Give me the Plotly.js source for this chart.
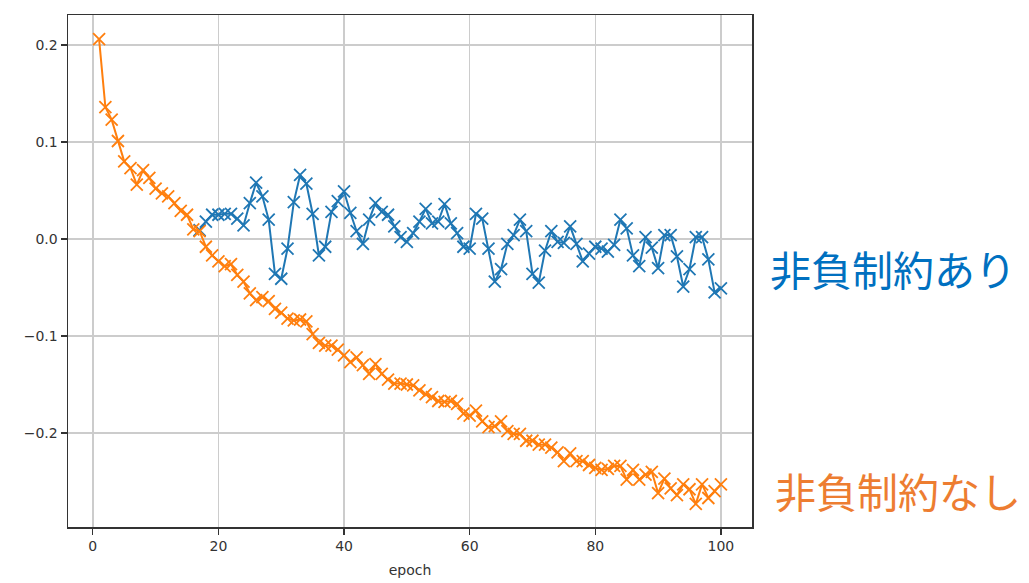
<!DOCTYPE html>
<html>
<head>
<meta charset="utf-8">
<script src="https://cdn.plot.ly/plotly-3.0.1.min.js"></script>
<style>html,body{margin:0;padding:0;background:#fff;}#chart{width:1029px;height:583px;}</style>
</head>
<body>
<div id="chart"></div>
<script>
// epochs for each series
const epochsOrange = Array.from({length: 100}, (_, i) => i + 1);
const epochsBlue = Array.from({length: 84}, (_, i) => i + 17);

// 非負制約なし (orange), epochs 1..100
const valuesOrange = [
  0.206, 0.136, 0.123, 0.101, 0.080, 0.073, 0.056, 0.071, 0.063, 0.052,
  0.047, 0.044, 0.037, 0.029, 0.025, 0.010, 0.008, -0.008, -0.017, -0.023,
  -0.028, -0.026, -0.037, -0.044, -0.056, -0.063, -0.060, -0.064, -0.072, -0.076,
  -0.082, -0.084, -0.083, -0.085, -0.098, -0.107, -0.110, -0.110, -0.114, -0.120,
  -0.127, -0.122, -0.130, -0.139, -0.129, -0.139, -0.145, -0.149, -0.149, -0.150,
  -0.151, -0.156, -0.160, -0.163, -0.167, -0.168, -0.167, -0.170, -0.180, -0.182,
  -0.177, -0.188, -0.194, -0.193, -0.188, -0.198, -0.201, -0.201, -0.208, -0.208,
  -0.212, -0.212, -0.215, -0.220, -0.229, -0.221, -0.229, -0.229, -0.233, -0.236,
  -0.238, -0.237, -0.234, -0.234, -0.248, -0.238, -0.248, -0.243, -0.240, -0.262,
  -0.247, -0.257, -0.264, -0.253, -0.258, -0.273, -0.253, -0.267, -0.260, -0.253
];

// 非負制約あり (blue), epochs 17..100 (hidden under orange before that)
const valuesBlue = [
  0.009, 0.018, 0.025, 0.025, 0.026, 0.026, 0.021, 0.014, 0.037, 0.058,
  0.044, 0.020, -0.036, -0.041, -0.010, 0.038, 0.066, 0.057, 0.026, -0.017,
  -0.008, 0.028, 0.039, 0.049, 0.027, 0.008, -0.005, 0.020, 0.037, 0.028,
  0.025, 0.013, 0.002, -0.003, 0.006, 0.018, 0.031, 0.016, 0.018, 0.036,
  0.016, 0.006, -0.008, -0.010, 0.026, 0.021, -0.010, -0.044, -0.031, -0.005,
  0.004, 0.020, 0.008, -0.036, -0.045, -0.012, 0.008, -0.003, -0.004, 0.013,
  -0.005, -0.023, -0.015, -0.008, -0.010, -0.013, -0.006, 0.020, 0.011, -0.017,
  -0.028, 0.002, -0.009, -0.030, 0.004, 0.004, -0.018, -0.049, -0.031, 0.002,
  0.002, -0.021, -0.055, -0.051
];

const xTicks = [0, 20, 40, 60, 80, 100];
const yTicks = [-0.2, -0.1, 0.0, 0.1, 0.2];
const labelBlue = "非負制約あり";
const labelOrange = "非負制約なし";

const blue = "#1f77b4";
const orange = "#ff7f0e";

const traces = [
  {
    x: epochsBlue, y: valuesBlue, type: "scatter", mode: "lines+markers",
    line: {color: blue, width: 2},
    marker: {symbol: "x-thin-open", size: 12, color: blue, line: {color: blue, width: 1.8}},
    showlegend: false, hoverinfo: "skip"
  },
  {
    x: epochsOrange, y: valuesOrange, type: "scatter", mode: "lines+markers",
    line: {color: orange, width: 2},
    marker: {symbol: "x-thin-open", size: 12, color: orange, line: {color: orange, width: 1.8}},
    showlegend: false, hoverinfo: "skip"
  }
];

const layout = {
  width: 1029, height: 583,
  margin: {l: 68, r: 277, t: 15, b: 56},
  paper_bgcolor: "#ffffff", plot_bgcolor: "#ffffff",
  font: {family: "DejaVu Sans, sans-serif", size: 14, color: "#333333"},
  xaxis: {
    range: [-3.95, 104.95], tickvals: xTicks, ticktext: xTicks.map(String),
    showgrid: true, gridcolor: "#cccccc", gridwidth: 1.5, zeroline: false,
    showline: true, mirror: true, linecolor: "#333333", linewidth: 1.5,
    ticks: "outside", ticklen: 6, tickcolor: "#333333", tickwidth: 1.2,
    tickfont: {size: 14, color: "#333333"},
    title: {text: "epoch", font: {size: 14, color: "#333333"}, standoff: 12}
  },
  yaxis: {
    range: [-0.2969, 0.2309], tickvals: yTicks, tickformat: ".1f",
    showgrid: true, gridcolor: "#cccccc", gridwidth: 1.5, zeroline: false,
    showline: true, mirror: true, linecolor: "#333333", linewidth: 1.5,
    ticks: "outside", ticklen: 6, tickcolor: "#333333", tickwidth: 1.2,
    tickfont: {size: 14, color: "#333333"}
  },
  annotations: [
    {
      xref: "paper", yref: "paper", x: 1.0234, y: 0.5059, xanchor: "left", yanchor: "middle",
      text: labelBlue, showarrow: false,
      font: {family: "Noto Sans CJK JP", size: 41, color: "#0070c0"}
    },
    {
      xref: "paper", yref: "paper", x: 1.0300, y: 0.0723, xanchor: "left", yanchor: "middle",
      text: labelOrange, showarrow: false,
      font: {family: "Noto Sans CJK JP", size: 41, color: "#ed7d31"}
    }
  ]
};

Plotly.newPlot("chart", traces, layout, {displayModeBar: false, staticPlot: true});
</script>
</body>
</html>
